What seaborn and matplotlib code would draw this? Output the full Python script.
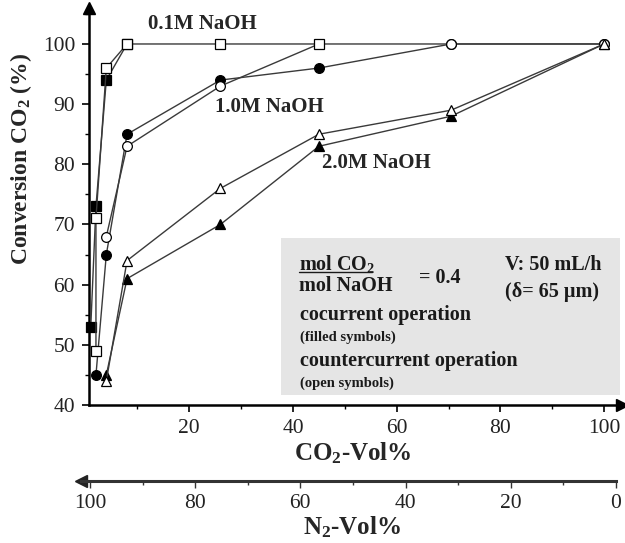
import matplotlib
matplotlib.use("Agg")
import matplotlib.pyplot as plt
from matplotlib.patches import Rectangle
from matplotlib.lines import Line2D
from matplotlib.ticker import MultipleLocator
import numpy as np
import pandas as pd
import seaborn as sns

# ---- data: CO2 conversion (%) versus CO2 content of the gas feed (vol%) ----
x_01_filled = [1, 2, 4, 8]
y_01_filled = [53, 73, 94, 100]
x_01_open = [2, 2, 4, 8, 26, 45]
y_01_open = [49, 71, 96, 100, 100, 100]

x_10_filled = [2, 4, 8, 26, 45, 70.5, 100]
y_10_filled = [45, 65, 85, 94, 96, 100, 100]
x_10_open = [4, 8, 26, 45, 70.5, 100]
y_10_open = [68, 83, 93, 100, 100, 100]

x_20_filled = [4, 8, 26, 45, 70.5, 100]
y_20_filled = [45, 61, 70, 83, 88, 100]
x_20_open = [4, 8, 26, 45, 70.5, 100]
y_20_open = [44, 64, 76, 85, 89, 100]

series_labels = ["0.1M NaOH", "1.0M NaOH", "2.0M NaOH"]
co2_ticks = [20, 40, 60, 80, 100]
n2_ticks = [100, 80, 60, 40, 20, 0]

sns.set_theme(style="white")
plt.rcParams["font.family"] = ["Liberation Serif", "DejaVu Serif"]
plt.rcParams["mathtext.default"] = "regular"

W, H = 625, 543
fig = plt.figure(figsize=(W / 100, H / 100), dpi=100)


def fx(px):
    return px / W


def fy(py):
    return 1 - py / H


# main axes (pixel geometry)
left, right, top, bottom = 89, 622, 8, 405
ax = fig.add_axes([fx(left), fy(bottom), (right - left) / W, (bottom - top) / H])
ax.set_facecolor("white")

line_kw = dict(color="#3a3a3a", linewidth=1.0, sort=False, estimator=None, ax=ax)


def draw(xs, ys, marker, ms, filled, z):
    df = pd.DataFrame({"co2": xs, "conv": ys})
    sns.lineplot(data=df, x="co2", y="conv", marker=marker, markersize=ms,
                 markerfacecolor="black" if filled else "white",
                 markeredgecolor="black", markeredgewidth=0.9,
                 zorder=z, clip_on=False, **line_kw)


draw(x_01_filled, y_01_filled, "s", 6.5, True, 3)
draw(x_10_filled, y_10_filled, "o", 7, True, 3)
draw(x_20_filled, y_20_filled, "^", 7.5, True, 3)
draw(x_10_open, y_10_open, "o", 7, False, 4)
draw(x_01_open, y_01_open, "s", 6.5, False, 5)
draw(x_20_open, y_20_open, "^", 7.5, False, 6)

ax.set_xlim(0.66, 103.45)
ax.set_ylim(40, 105.98)
ax.set_xlabel("")
ax.set_ylabel("Conversion CO$_2$ (%)", fontsize=17, fontweight="bold")
ax.yaxis.set_label_coords(-0.104, 0.62)

for s in ["top", "right"]:
    ax.spines[s].set_visible(False)
for s in ["left", "bottom"]:
    ax.spines[s].set_linewidth(1.8)
    ax.spines[s].set_color("black")

ax.set_xticks(co2_ticks)
ax.xaxis.set_minor_locator(MultipleLocator(10))
ax.set_yticks(np.arange(40, 101, 10))
ax.yaxis.set_minor_locator(MultipleLocator(5))
ax.tick_params(axis="both", which="major", direction="out", length=5, width=1.2,
               color="black", labelsize=15.5, labelcolor="#222222", pad=5,
               bottom=True, left=True)
ax.tick_params(axis="both", which="minor", direction="out", length=3, width=1.0,
               color="black", bottom=True, left=True)
ax.grid(False)

# axis arrows
ax.plot([1], [0], marker=">", color="black", markersize=8, transform=ax.transAxes, clip_on=False)
ax.plot([0], [1], marker="^", color="black", markersize=8, transform=ax.transAxes, clip_on=False)

# CO2 axis title
fig.text(fx(353), fy(453), "CO$_2$-Vol%", ha="center", va="center", fontsize=18, fontweight="bold")

# secondary N2 scale below
n_left, n_right, n_y = 81, 616, 480.5
ax2 = fig.add_axes([fx(n_left), fy(n_y), (n_right - n_left) / W, 0.0001])
ax2.set_xlim(101.7, 0)
ax2.set_yticks([])
for s in ["top", "right", "left"]:
    ax2.spines[s].set_visible(False)
ax2.spines["bottom"].set_linewidth(2.2)
ax2.spines["bottom"].set_color("#333333")
ax2.set_xticks(n2_ticks)
ax2.xaxis.set_minor_locator(MultipleLocator(10))
ax2.tick_params(axis="x", which="major", direction="out", length=5, width=1.0,
                color="#333333", labelsize=15.5, labelcolor="#222222", pad=5, bottom=True)
ax2.tick_params(axis="x", which="minor", direction="out", length=3, width=1.0,
                color="#333333", bottom=True)
ax2.plot([0], [0], marker="<", color="#222222", markersize=8, transform=ax2.transAxes, clip_on=False)
ax2.set_facecolor("none")
fig.text(fx(352), fy(527), "N$_2$-Vol%", ha="center", va="center", fontsize=18, fontweight="bold")

# series labels
fig.text(fx(148), fy(24), series_labels[0], ha="left", va="center", fontsize=15, fontweight="bold")
fig.text(fx(215), fy(107), series_labels[1], ha="left", va="center", fontsize=15, fontweight="bold")
fig.text(fx(322), fy(163), series_labels[2], ha="left", va="center", fontsize=15, fontweight="bold")

# conditions panel
fig.patches.append(Rectangle((fx(281), fy(395)), (620 - 281) / W, (395 - 238) / H,
                             transform=fig.transFigure, facecolor="#e5e5e5",
                             edgecolor="none", zorder=1))
bold14 = dict(fontsize=14.5, fontweight="bold", va="center", ha="left", color="#1a1a1a", zorder=2)
fig.text(fx(299), fy(264), "mol CO$_2$", **bold14)
fig.add_artist(Line2D([fx(299), fx(372)], [fy(271.5), fy(271.5)], transform=fig.transFigure,
                      color="#1a1a1a", linewidth=1.0, zorder=2))
fig.text(fx(299), fy(286), "mol NaOH", **bold14)
fig.text(fx(419), fy(278), "= 0.4", **bold14)
fig.text(fx(505), fy(265), "V: 50 mL/h", **bold14)
fig.text(fx(505), fy(291.5), "(\u03b4= 65 \u00b5m)", **bold14)
fig.text(fx(300), fy(315), "cocurrent operation", **bold14)
fig.text(fx(300), fy(337), "(filled symbols)", fontsize=10.5, fontweight="bold",
         va="center", ha="left", color="#1a1a1a", zorder=2)
fig.text(fx(300), fy(361), "countercurrent operation", **bold14)
fig.text(fx(300), fy(383), "(open symbols)", fontsize=10.5, fontweight="bold",
         va="center", ha="left", color="#1a1a1a", zorder=2)

fig.savefig("out.png", dpi=100)
